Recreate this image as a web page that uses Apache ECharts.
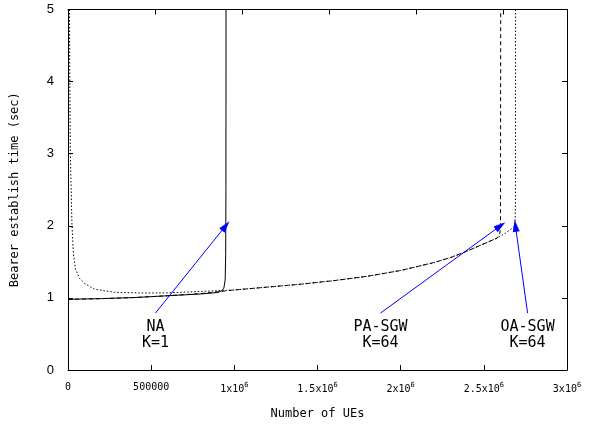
<!DOCTYPE html>
<html>
<head>
<meta charset="utf-8">
<script src="https://cdn.jsdelivr.net/npm/echarts@6/dist/echarts.min.js"></script>
<style>html,body{margin:0;padding:0;background:#fff;}#c{width:605px;height:430px;}</style>
</head>
<body>
<div id="c"></div>
<script>
// ---- data ----
var xTickLabels = ['0', '500000', '1x10{s|6}', '1.5x10{s|6}', '2x10{s|6}', '2.5x10{s|6}', '3x10{s|6}'];
var yTickLabels = ['0', '1', '2', '3', '4', '5'];

var naValues = [[0,0.98],[200000,0.99],[400000,1.005],[600000,1.03],[800000,1.055],[900000,1.075],
  [925000,1.10],[937000,1.135],[945000,1.25],[948000,1.6],[949500,2.5],[950000,5]];

var paValues = [[0,0.98],[200000,0.99],[400000,1.005],[600000,1.03],[800000,1.06],[1000000,1.11],
  [1200000,1.15],[1400000,1.19],[1600000,1.24],[1800000,1.30],[2000000,1.38],[2200000,1.49],
  [2300000,1.56],[2400000,1.65],[2500000,1.75],[2580000,1.83],[2595000,1.88],[2600000,1.96],[2601500,5]];

var oaValues = [[9000,5],[11000,4],[14000,3],[24000,2],[33000,1.6],[45000,1.4],[70000,1.27],
  [100000,1.2],[160000,1.12],[280000,1.077],[450000,1.068],[600000,1.07],[800000,1.09],[1000000,1.11],
  [1200000,1.15],[1400000,1.19],[1600000,1.24],[1800000,1.30],[2000000,1.38],[2200000,1.49],
  [2300000,1.56],[2400000,1.65],[2500000,1.75],[2580000,1.83],[2630000,1.9],[2680000,1.98],
  [2688000,2.05],[2690000,2.3],[2691000,5]];

// annotation: [tailX, tailY, tipX, tipY, label]
var annNA = [526000, 0.79, 948000, 2.0, 'NA\nK=1'];
var annPA = [1879000, 0.79, 2600000, 2.0, 'PA-SGW\nK=64'];
var annOA = [2763000, 0.79, 2690000, 2.0, 'OA-SGW\nK=64'];
var annLabelY = 0.485;

// ---- chart ----
var chart = echarts.init(document.getElementById('c'), null, {renderer: 'canvas'});
var mono = '"DejaVu Sans Mono", "Liberation Mono", monospace';

function arrowLine(a) {
  return [
    {coord: [a[0], a[1]], symbol: 'none'},
    {coord: [a[2], a[3]], symbol: 'triangle'}
  ];
}
function labelPoint(a) {
  return {
    coord: [a[0], annLabelY],
    symbol: 'rect', symbolSize: 1,
    itemStyle: {color: 'rgba(0,0,0,0)'},
    label: {show: true, position: 'inside', formatter: a[4], color: '#000',
      fontFamily: mono, fontSize: 15, lineHeight: 16}
  };
}
var axLine = {show: true, onZero: false, lineStyle: {color: '#000', width: 1}};
var axTick = {show: true, inside: true, length: 5, lineStyle: {color: '#000'}};

var option = {
  animation: false,
  backgroundColor: '#fff',
  grid: {left: 68, right: 38, top: 9.5, bottom: 60, containLabel: false},
  xAxis: [{
    type: 'value', min: 0, max: 3000000, interval: 500000, position: 'bottom',
    name: 'Number of UEs', nameLocation: 'middle', nameGap: 38,
    nameTextStyle: {fontFamily: mono, fontSize: 12, color: '#000'},
    axisLine: axLine, axisTick: axTick,
    splitLine: {show: false},
    axisLabel: {
      margin: 12, color: '#000', fontFamily: mono, fontSize: 10,
      formatter: function (v) { return xTickLabels[Math.round(v / 500000)]; },
      rich: {s: {fontSize: 7, fontFamily: mono, color: '#000', padding: [0, 0, 7, 0]}}
    }
  }, {
    type: 'value', min: 0, max: 2865000, interval: 500000, position: 'top',
    axisLine: axLine, axisTick: axTick,
    splitLine: {show: false}, axisLabel: {show: false}
  }],
  yAxis: [{
    type: 'value', min: 0, max: 5, interval: 1, position: 'left',
    name: 'Bearer establish time (sec)', nameLocation: 'middle', nameGap: 47,
    nameTextStyle: {fontFamily: mono, fontSize: 12, color: '#000'},
    axisLine: axLine, axisTick: axTick,
    splitLine: {show: false},
    axisLabel: {margin: 14, color: '#000', fontFamily: '"Liberation Sans", Arial, sans-serif', fontSize: 13,
      formatter: function (v) { return yTickLabels[Math.round(v)]; }}
  }, {
    type: 'value', min: 0, max: 5, interval: 1, position: 'right',
    axisLine: axLine, axisTick: axTick,
    splitLine: {show: false}, axisLabel: {show: false}
  }],
  series: [{
    name: 'OA-SGW', type: 'line', data: oaValues, showSymbol: false, symbol: 'none',
    lineStyle: {color: '#000', width: 1, type: [1.5, 2]},
    z: 2
  }, {
    name: 'PA-SGW', type: 'line', data: paValues, showSymbol: false, symbol: 'none',
    lineStyle: {color: '#000', width: 1, type: [4, 3]},
    z: 3
  }, {
    name: 'NA', type: 'line', data: naValues, showSymbol: false, symbol: 'none',
    lineStyle: {color: '#000', width: 1},
    z: 4,
    markLine: {
      silent: true, animation: false, symbolSize: [7, 12],
      lineStyle: {color: '#0000ff', width: 1, type: 'solid'},
      label: {show: false},
      data: [arrowLine(annNA), arrowLine(annPA), arrowLine(annOA)]
    },
    markPoint: {
      silent: true, animation: false,
      data: [labelPoint(annNA), labelPoint(annPA), labelPoint(annOA)]
    }
  }]
};
chart.setOption(option);
</script>
</body>
</html>
